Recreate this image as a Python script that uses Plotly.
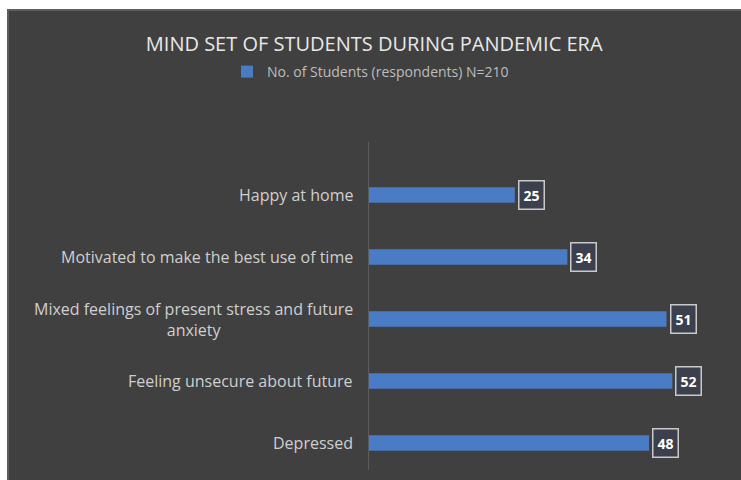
import plotly.graph_objects as go

# Survey responses (N=210)
categories = [
    "Happy at home",
    "Motivated to make the best use of time",
    "Mixed feelings of present stress and future<br>anxiety",
    "Feeling unsecure about future",
    "Depressed",
]
students = [25, 34, 51, 52, 48]
series_name = "No. of Students (respondents) N=210"
title_text = "MIND SET OF STUDENTS DURING PANDEMIC ERA"

PANEL = "#404040"
BAR = "#4a7cc6"
FONT = "Open Sans"

fig = go.Figure(
    go.Bar(
        x=students,
        y=categories,
        orientation="h",
        name=series_name,
        marker=dict(color=BAR, line=dict(width=0)),
        width=0.25,
        showlegend=True,
        hoverinfo="x+y",
    )
)

# category labels, wrapped lines centred on each other
for cat in categories:
    fig.add_annotation(
        x=0, y=cat, xref="x", yref="y",
        text=cat, showarrow=False,
        xanchor="right", yanchor="middle", xshift=-14,
        align="center",
        font=dict(family=FONT, size=16, color="#cfcfcf"),
    )

# boxed value labels at the bar ends
for cat, v in zip(categories, students):
    fig.add_annotation(
        x=v, y=cat, xref="x", yref="y",
        text=f"<b>{v}</b>", showarrow=False,
        xanchor="left", yanchor="middle", xshift=3,
        bgcolor="#3b404c", bordercolor="#c9c9c9", borderwidth=1.5, borderpad=4,
        font=dict(family=FONT, size=14, color="#ffffff"),
    )

# dark chart panel with a light border on a white page
fig.add_shape(
    type="rect", xref="paper", yref="paper",
    x0=(8 - 369) / 350, x1=(745 - 369) / 350,
    y0=(470 - 484) / 328, y1=(470 - 10) / 328,
    fillcolor=PANEL, line=dict(color="#5e5e5e", width=2), layer="below",
)

fig.update_layout(
    width=741, height=480,
    margin=dict(l=369, r=22, t=142, b=10),
    paper_bgcolor="#ffffff",
    plot_bgcolor="rgba(0,0,0,0)",
    title=dict(
        text=title_text, x=0.505, xanchor="center",
        y=1 - 44 / 480, yanchor="middle",
        font=dict(family=FONT, size=20, color="#e8e8e8"),
    ),
    legend=dict(
        orientation="h", x=0.5, xanchor="center", xref="container",
        y=1 - 72 / 480, yanchor="middle", yref="container",
        font=dict(family=FONT, size=14, color="#bdbdbd"),
        bgcolor="rgba(0,0,0,0)",
        itemwidth=30,
    ),
    xaxis=dict(
        range=[0, 60], showgrid=False, zeroline=False,
        showticklabels=False, showline=False, ticks="",
    ),
    yaxis=dict(
        categoryorder="array", categoryarray=categories,
        range=[4.435, -0.855],
        showticklabels=False, showgrid=False, zeroline=False,
        showline=True, linecolor="#5c5c5c", linewidth=1, ticks="",
    ),
    bargap=0.75,
)

fig.write_html("out.html")
